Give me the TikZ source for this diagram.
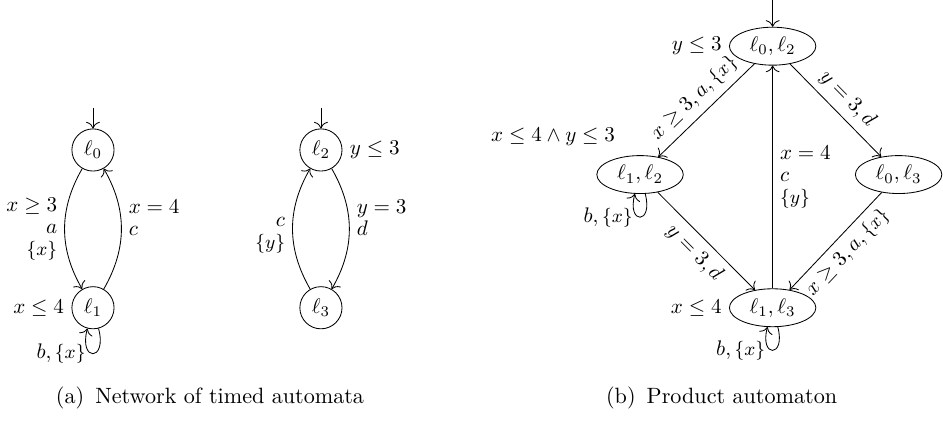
\documentclass[tikz,border=0pt]{standalone}
\usetikzlibrary{shapes,arrows.meta,positioning,calc}
\newcommand{\rst}[1]{\mbox{\small$\{#1\}$}}

\begin{document}
\begin{tikzpicture}[
    loc/.style={circle, draw, inner sep=1pt, minimum size=20pt},
    ploc/.style={ellipse, draw, inner sep=1pt, minimum width=41pt, minimum height=18pt},
    trans/.style={-{To[length=1.1mm]}},
    lbl/.style={font=\linespread{0.88}\selectfont},
    capt/.style={font=\fontsize{10.5}{12}\selectfont}]

    \useasboundingbox (0,0) rectangle (15.72,7.03);

    % Network: first automaton
    \node[loc] (l0) at (1.55,4.53) {$\ell_0$};
    \node[loc, label={left:$x \leq 4$}] (l1) at (1.55,1.9) {$\ell_1$};
    \coordinate (s0) at (1.55,5.23);
    \draw[trans] (s0) -- (l0);
    \draw[trans] (l0) to[bend right=30] node[lbl, left, align=right] {$x \geq 3$\\ $a$\\ \rst{x}} (l1);
    \draw[trans] (l1) to[bend right=30] node[lbl, right, align=left] {$x = 4$\\ $c$\\ ~} (l0);
    \draw[trans] (l1) to[loop below] node[left] {$b, \rst{x}$} (l1);

    % Network: second automaton
    \node[loc, label={right:$y \leq 3$}] (l2) at (5.35,4.53) {$\ell_2$};
    \node[loc] (l3) at (5.35,1.9) {$\ell_3$};
    \coordinate (s2) at (5.35,5.23);
    \draw[trans] (s2) -- (l2);
    \draw[trans] (l2) to[bend left=30] node[lbl, right, align=left] {$y = 3$\\ $d$\\ ~} (l3);
    \draw[trans] (l3) to[bend left=30] node[lbl, left, align=right] {~\\ $c$\\ \rst{y}} (l2);

    % Product automaton
    \node[ploc, label={left:$y \leq 3$}] (l02) at (12.88,6.26) {$\ell_0, \ell_2$};
    \node[ploc] (l12) at (10.67,4.12) {$\ell_1, \ell_2$};
    \node[ploc] (l03) at (14.98,4.12) {$\ell_0, \ell_3$};
    \node[ploc, label={left:$x \leq 4$}] (l13) at (12.88,1.9) {$\ell_1, \ell_3$};
    \node (i12) at (9.22,4.75) {$x \leq 4 \wedge y \leq 3$};
    \coordinate (s02) at (12.88,7.03);

    \draw[trans] (s02) -- (l02);
    \draw[trans] (l02) -- node[above, sloped] {$x \geq 3, a, \rst{x}$} (l12);
    \draw[trans] (l02) -- node[above, sloped] {$y = 3, d$} (l03);
    \draw[trans] (l12) -- node[below, sloped] {$y = 3, d$} (l13);
    \draw[trans] (l03) -- node[below, sloped] {$x \geq 3, a, \rst{x}$} (l13);
    \draw[trans] (l13) -- node[lbl, right, align=left] {$x = 4$\\ $c$\\ \rst{y}} (l02);
    \draw[trans] (l12) to[loop below] node[left] {$b, \rst{x}$} (l12);
    \draw[trans] (l13) to[loop below] node[left] {$b, \rst{x}$} (l13);

    % Captions
    \node[capt] (capa) at (3.5,0.4) {(a)\enspace Network of timed automata};
    \node[capt] (capb) at (12.03,0.4) {(b)\enspace Product automaton};
\end{tikzpicture}
\end{document}
